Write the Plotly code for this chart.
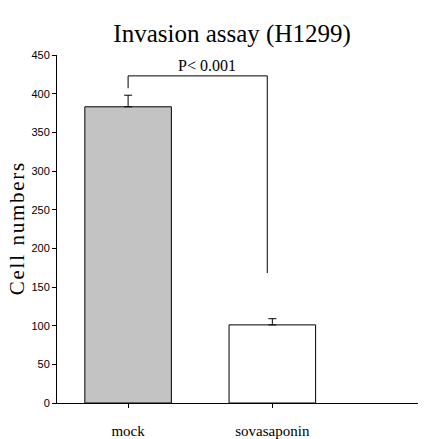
import plotly.graph_objects as go

categories = ["mock", "sovasaponin"]
values = [383, 101]
errors = [15, 8]
bar_colors = ["#c3c3c3", "#ffffff"]
y_ticks = [0, 50, 100, 150, 200, 250, 300, 350, 400, 450]
p_label = "P< 0.001"
bracket_y = 423
bracket_left_bottom = 407
bracket_right_bottom = 168

serif = "Liberation Serif, Times New Roman, serif"
narrow = "Liberation Sans Narrow, Arial Narrow, Liberation Sans, sans-serif"

fig = go.Figure()
fig.add_trace(go.Bar(
    x=[0, 1], y=values, width=0.6,
    marker=dict(color=bar_colors, line=dict(color="black", width=1)),
    error_y=dict(type="data", array=errors, symmetric=False, arrayminus=[0, 0],
                 color="black", thickness=1, width=4),
    showlegend=False,
))
# significance bracket
fig.add_trace(go.Scatter(
    x=[0, 0, 0.965, 0.965],
    y=[bracket_left_bottom, bracket_y, bracket_y, bracket_right_bottom],
    mode="lines", line=dict(color="black", width=1), showlegend=False,
    hoverinfo="skip",
))
fig.add_annotation(x=0.55, y=bracket_y, text=p_label, showarrow=False,
                   yanchor="bottom", yshift=0,
                   font=dict(family=serif, size=16, color="black"))

fig.update_layout(
    width=435, height=439,
    margin=dict(l=57, r=17, t=55, b=36, autoexpand=False),
    paper_bgcolor="white", plot_bgcolor="white",
    title=dict(text="Invasion assay (H1299)", x=0.485, xanchor="center",
               xref="paper", yref="container",
               y=1 - 33 / 439, yanchor="middle",
               font=dict(family=serif, size=25, color="black")),
    xaxis=dict(range=[-0.493, 2.01], tickmode="array", tickvals=[0, 1],
               ticktext=categories, showline=True, linecolor="black", linewidth=1,
               ticks="outside", ticklen=4, tickcolor="black", showgrid=False,
               zeroline=False, automargin=False, ticklabelstandoff=10,
               tickfont=dict(family=serif, size=15, color="black")),
    yaxis=dict(range=[0, 450], tickvals=y_ticks, showline=True, linecolor="black",
               linewidth=1, ticks="outside", ticklen=4, tickcolor="black",
               showgrid=False, zeroline=False, automargin=False,
               tickfont=dict(family=narrow, size=11, color="black"),
               title=dict(text="C\u200ae\u200al\u200al\u2009 n\u200au\u200am\u200ab\u200ae\u200ar\u200as",
                          standoff=1,
                          font=dict(family=serif, size=21, color="black"))),
)
fig.write_html("out.html", config={"displayModeBar": False},
               post_script="document.body.style.margin='0';document.body.style.padding='0';")
